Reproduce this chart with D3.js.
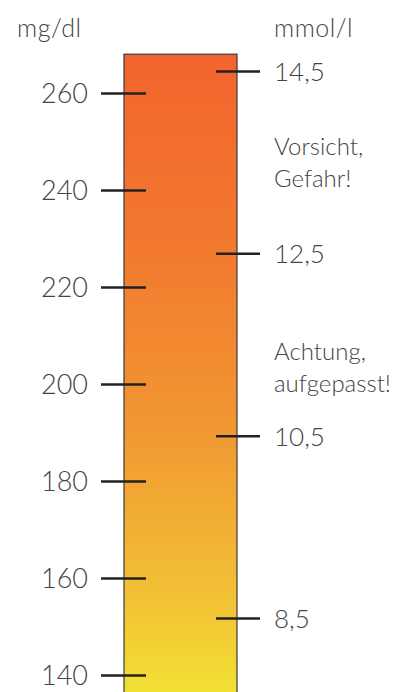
<!DOCTYPE html>
<meta charset="utf-8">
<html>
<head>
    <title>Blutzucker</title>
</head>
<style type="text/css">
    body{
        margin: 0;
        background: #fff;
    }
    text{
        font-family: Lato, "Noto Sans", sans-serif;
        font-weight: 300;
        fill: #444;
    }
    .axis line{
        stroke: #222;
        stroke-width: 2.5;
    }
</style>
<script src="https://cdn.jsdelivr.net/npm/d3@7"></script>
<body>

<script type="text/javascript">
// values
var mgTicks = [140, 160, 180, 200, 220, 240, 260]
var mmolTicks = [8.5, 10.5, 12.5, 14.5]
var units = ["mg/dl", "mmol/l"]
// scale bar covers this span (mg/dl), runs past the bottom edge
var barRange = [130, 268]
// warnings, centred on a mmol/l value
var noteLines = [["Vorsicht,", "Gefahr!"], ["Achtung,", "aufgepasst!"]]
var noteAt = [13.5, 11.25]

var svgWidth = 404
var svgHeight = 692

var svg = d3.select("body")
     .append("svg")
     .attr("width", svgWidth)
     .attr("height", svgHeight)

var yMg = d3.scaleLinear().domain([140, 260]).range([675, 93])
var yMmol = d3.scaleLinear().domain([8.5, 14.5]).range([618, 71])

var barLeft = 124, barRight = 237

var defs = svg.append("defs")
var grad = defs.append("linearGradient")
    .attr("id", "grad")
    .attr("x1", 0).attr("y1", 0)
    .attr("x2", 0).attr("y2", 1)
grad.selectAll("stop")
    .data([
        {o: "0%", c: "#f2642d"},
        {o: "30%", c: "#f27a2f"},
        {o: "55%", c: "#f19632"},
        {o: "80%", c: "#f2bf35"},
        {o: "100%", c: "#f0ea33"}
    ]).enter()
    .append("stop")
    .attr("offset", d => d.o)
    .attr("stop-color", d => d.c)

svg.append("rect")
    .attr("x", barLeft)
    .attr("y", yMg(barRange[1]))
    .attr("width", barRight - barLeft)
    .attr("height", yMg(barRange[0]) - yMg(barRange[1]))
    .attr("fill", "url(#grad)")
    .attr("stroke", "#3a3a3a")
    .attr("stroke-width", 1.2)

var fmt = d => String(d).replace(".", ",")

var leftAxis = d3.axisLeft(yMg)
    .tickValues(mgTicks)
    .tickSize(45)
    .tickPadding(13)
    .tickFormat(d => d)

var rightAxis = d3.axisRight(yMmol)
    .tickValues(mmolTicks)
    .tickSize(44)
    .tickPadding(14)
    .tickFormat(fmt)

var gl = svg.append("g")
    .attr("class", "axis")
    .attr("transform", "translate(146,0)")
    .call(leftAxis)
var gr = svg.append("g")
    .attr("class", "axis")
    .attr("transform", "translate(216,0)")
    .call(rightAxis)

svg.selectAll(".axis .domain").remove()
svg.selectAll(".axis text")
    .attr("font-size", 27)
    .attr("dy", "0.36em")
    .attr("font-family", null)
gl.selectAll("text").attr("x", -58)
gr.selectAll("text").attr("font-size", 26)

// unit labels
svg.selectAll(".unit")
    .data(units).enter()
    .append("text")
    .attr("class", "unit")
    .attr("x", (d, i) => i ? 274 : 17)
    .attr("y", 37)
    .attr("font-size", 25)
    .attr("letter-spacing", 0.5)
    .text(d => d)

// warnings
var notes = svg.selectAll(".note")
    .data(noteLines).enter()
    .append("text")
    .attr("class", "note")
    .attr("font-size", 24)
    .attr("transform", (d, i) => "translate(274," + yMmol(noteAt[i]) + ")")
notes.selectAll("tspan")
    .data(d => d).enter()
    .append("tspan")
    .attr("x", 0)
    .attr("y", (d, i) => (i - 0.5) * 32)
    .attr("dy", "0.36em")
    .text(d => d)
</script>
</body>
</html>
